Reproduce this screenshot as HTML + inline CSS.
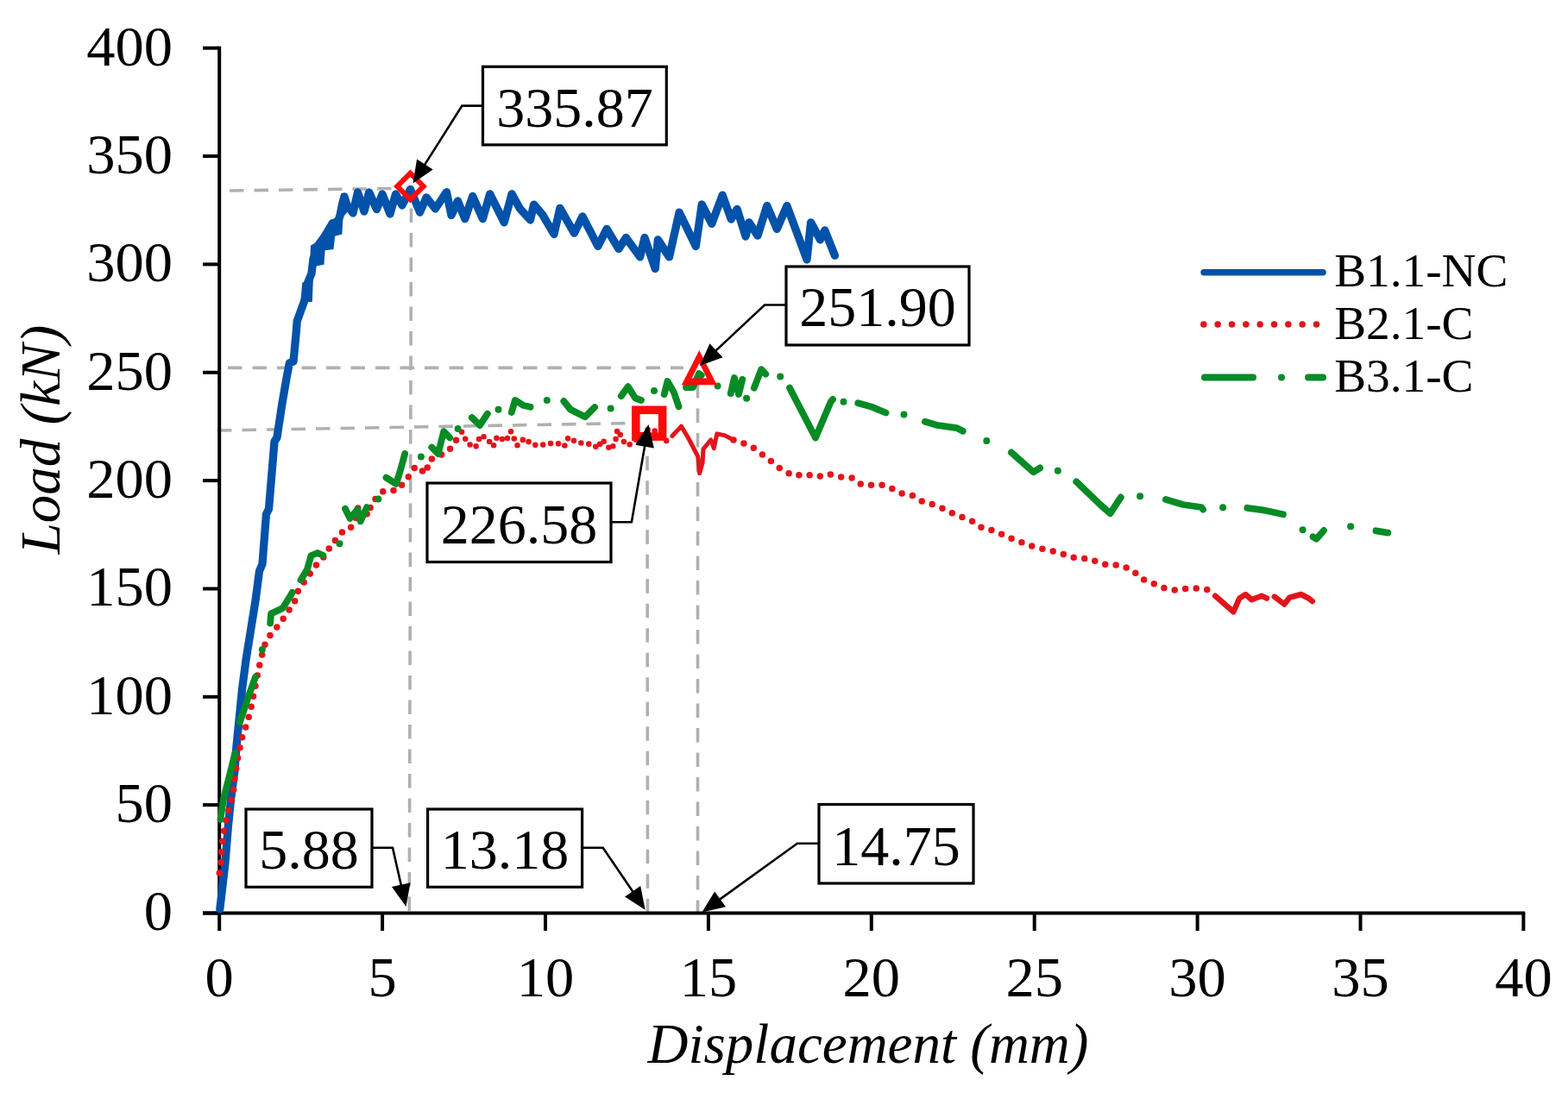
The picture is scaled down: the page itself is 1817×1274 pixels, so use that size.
<!DOCTYPE html>
<html><head><meta charset="utf-8"><title>Load-Displacement</title>
<style>
html,body{margin:0;padding:0;background:#fff;}
svg{display:block;filter:blur(0.4px);}
text{font-family:'Liberation Serif','Times New Roman',serif;fill:#000;}
</style></head><body>
<svg width="1817" height="1274" viewBox="0 0 1817 1274">
<rect x="0" y="0" width="1817" height="1274" fill="#fff"/>

<g stroke="#B0B0B0" stroke-width="3.6" stroke-dasharray="16.5 12" fill="none">
<line x1="266" y1="221" x2="458" y2="218.5"/>
<line x1="264" y1="426.4" x2="792" y2="426.4"/>
<line x1="252" y1="499" x2="732" y2="490.5"/>
<line x1="476.5" y1="241.5" x2="474.3" y2="1058"/>
<line x1="750" y1="500.3" x2="750.5" y2="1058"/>
<line x1="808.5" y1="445.1" x2="808.5" y2="1058"/>
</g>
<g stroke="#000" stroke-width="4" fill="none">
<line x1="254.2" y1="53.8" x2="254.2" y2="1079"/>
<line x1="235" y1="1058.5" x2="1767.2" y2="1058.5"/>
<line x1="235" y1="1058.5" x2="254" y2="1058.5"/>
<line x1="235" y1="933.1" x2="254" y2="933.1"/>
<line x1="235" y1="807.8" x2="254" y2="807.8"/>
<line x1="235" y1="682.5" x2="254" y2="682.5"/>
<line x1="235" y1="557.1" x2="254" y2="557.1"/>
<line x1="235" y1="431.8" x2="254" y2="431.8"/>
<line x1="235" y1="306.4" x2="254" y2="306.4"/>
<line x1="235" y1="181.0" x2="254" y2="181.0"/>
<line x1="235" y1="55.7" x2="254" y2="55.7"/>
<line x1="443.1" y1="1058" x2="443.1" y2="1079"/>
<line x1="632.0" y1="1058" x2="632.0" y2="1079"/>
<line x1="820.9" y1="1058" x2="820.9" y2="1079"/>
<line x1="1009.8" y1="1058" x2="1009.8" y2="1079"/>
<line x1="1198.7" y1="1058" x2="1198.7" y2="1079"/>
<line x1="1387.6" y1="1058" x2="1387.6" y2="1079"/>
<line x1="1576.5" y1="1058" x2="1576.5" y2="1079"/>
<line x1="1765.4" y1="1058" x2="1765.4" y2="1079"/>
</g>
<polyline points="254.8,1054.0 261.0,1000.0 264.3,959.0 267.6,926.0 272.0,893.0 274.0,865.0 277.5,830.0 280.7,798.0 285.0,765.0 289.4,737.7 296.3,694.5 300.5,662.0 304.0,654.0 308.5,596.0 311.5,590.0 318.0,512.0 321.0,507.0 326.6,470.0 332.0,438.4 335.4,420.8 340.0,419.0 343.0,387.8 344.2,372.4 353.0,348.0 355.2,340.0 356.5,328.0 361.0,317.0 363.0,300.0 368.0,288.0 375.0,282.0 380.0,272.0 389.0,263.0 394.0,250.0 397.0,235.0 399.0,228.0 402.4,238.4 409.0,247.0 414.5,223.0 422.0,245.0 427.7,223.0 436.5,242.7 443.0,225.0 452.0,248.0 458.5,225.0 466.0,238.0 475.5,219.3 486.5,246.1 494.1,228.9 504.4,242.0 517.5,222.7 523.0,249.5 530.5,233.0 538.8,253.7 547.7,227.5 559.4,253.7 567.7,224.8 584.2,257.8 593.1,224.8 602.1,241.3 614.5,255.0 618.6,237.1 628.2,248.2 642.0,271.5 648.9,241.3 665.4,270.2 675.0,250.9 692.9,285.3 703.1,265.5 717.0,288.6 725.4,275.5 741.6,297.9 747.0,275.5 759.3,311.7 762.4,277.8 775.5,297.9 787.1,246.2 806.3,285.5 813.3,237.0 824.8,259.3 837.2,226.2 847.2,254.0 854.1,242.4 864.1,274.0 868.0,257.8 878.0,273.2 888.8,238.5 900.3,265.5 911.9,238.5 935.0,301.0 939.6,257.8 950.4,277.8 955.8,267.0 967.4,296.3" fill="none" stroke="#0352AA" stroke-width="9.3" stroke-linecap="round" stroke-linejoin="round"/>
<polygon points="348.3,350 350.3,327.6 355.8,326.5 358.5,320 360,284.7 365,281.4 372.3,271.6 382.1,255 391,252 393,238.6 395.3,224.3 402,224 404,238 402,246.3 397.5,251.8 396.4,271.5 388.2,273.7 386.5,289.1 376.6,290.2 375.5,306.7 363.5,309 361.8,350" fill="#0352AA"/>
<g fill="none" stroke="#E3141B" stroke-width="7.5" stroke-linecap="round" stroke-linejoin="round">
<polyline points="254.3,1012.0 256.3,998.0 257.0,980.8 259.4,965.0 262.5,947.8 266.5,933.7 270.4,918.0 272.0,902.0 274.3,886.0 277.3,869.8 280.7,854.3 285.9,839.6 290.2,824.0 293.7,806.8 299.7,775.7 302.3,764.5 306.6,748.0 312.7,736.9 321.3,726.5 332.0,712.0 344.6,692.0 345.2,685.5 357.0,668.0 369.4,651.0 378.9,642.3 383.2,631.0 390.0,625.0 397.0,616.4 405.6,613.0 412.5,600.9 414.3,588.8 428.0,597.4 429.8,583.6 443.6,569.8 460.9,568.0 476.4,549.0 481.6,540.4 493.7,549.0 497.1,533.5 519.6,523.2 535.1,500.7" stroke-dasharray="0 12.3"/>
<polyline points="535.1,500.7 542.0,514.0 550.9,519.0 557.0,504.4 564.2,508.0 571.5,517.8 576.3,505.6 586.0,511.7 592.0,500.2 599.3,516.5 607.8,508.0 616.3,515.3 624.8,516.5 636.9,514.1 646.5,514.1 653.8,517.8 658.7,506.9 668.3,512.9 678.0,514.1 687.7,515.3 692.6,520.0 697.9,509.4 707.6,521.7 712.9,513.0 715.5,498.0 723.5,513.0 727.9,516.5 736.2,510.5 745.0,503.0 752.0,497.0 760.0,500.0 768.0,509.0 779.8,514.3" stroke-dasharray="0 9" stroke-width="6.6"/>
<polyline points="850.0,510.0 861.4,513.8 872.8,518.9 882.9,526.5 894.3,535.3 907.0,545.4 920.9,551.8 932.3,549.2 947.5,553.0 958.9,549.2 968.3,551.4 979.0,553.9 988.1,553.9 998.8,562.2 1009.5,562.2 1022.7,562.2 1035.1,567.1 1045.0,572.1 1055.5,573.4 1068.9,581.3 1080.4,584.6 1091.6,589.0 1102.0,594.1 1115.6,599.8 1127.1,604.6 1140.0,613.4 1148.2,614.2 1157.3,617.5 1167.2,622.4 1180.4,627.4 1196.1,633.2 1209.3,636.5 1227.5,640.5 1240.1,645.5 1250.1,647.4 1261.4,647.4 1274.0,652.4 1285.3,655.5 1297.2,654.9 1311.7,660.5 1323.6,671.2 1337.4,676.9 1351.2,682.5 1363.8,684.4 1373.8,682.5 1387.0,681.9 1400.2,683.8 1406.0,688.0" stroke-dasharray="0 12.6"/>
<polyline points="778.9,505.5 789.5,494.1 798.3,509.0 808.8,529.3 810.6,548.7 814.1,536.3 815.0,520.5 823.8,509.9 827.3,519.6 830.8,502.9 839.6,504.6 850.0,510.0" stroke-width="5"/>
<polyline points="1408.2,690.8 1429.3,709.3 1436.3,693.5 1443.4,689.0 1450.4,695.2 1461.9,690.8 1468.0,693.5" stroke-width="6.5"/>
<polyline points="1476.8,691.7 1488.3,700.5 1494.4,692.6 1507.6,689.0 1516.4,693.5 1520.8,697.0" stroke-width="6.5"/>
</g>
<g fill="none" stroke="#078B25" stroke-width="7.8" stroke-linecap="round" stroke-linejoin="round">
<polyline points="255.4,950.0 259.0,926.0 267.5,893.0 272.3,872.9"/>
<polyline points="277.9,837.2 287.0,810.0 296.0,784.8"/>
<polyline points="313.2,722.5 314.1,711.4 327.5,705.1 336.9,690.2 338.7,686.7"/>
<polyline points="348.5,672.4 356.0,660.0 360.5,644.0 368.0,641.0 374.3,643.8"/>
<polyline points="400.0,589.7 405.6,600.9 414.3,590.5 417.7,604.3 425.1,588.0"/>
<polyline points="447.5,553.6 459.0,561.0 464.0,545.0 469.2,525.9"/>
<polyline points="500.3,518.6 507.7,526.0 514.2,500.1 521.2,507.4"/>
<polyline points="546.9,484.1 556.0,493.0 564.9,479.7"/>
<polyline points="592.8,478.0 596.9,463.9 606.6,470.0 614.6,471.8"/>
<polyline points="653.3,465.0 661.1,474.8 678.0,483.3 689.2,472.1"/>
<polyline points="719.8,459.1 727.7,448.2 736.2,461.5 743.0,464.0"/>
<polyline points="769.7,457.1 773.5,442.0 781.0,455.0 786.5,471.2"/>
<polyline points="795.0,449.0 803.0,449.0 810.0,433.0 812.7,435.1"/>
<polyline points="846.7,456.1 851.0,438.0 856.0,457.0 860.3,439.9"/>
<polyline points="873.9,449.6 882.2,428.2 887.3,433.7"/>
<polyline points="915.0,449.6 945.0,507.5 962.7,465.7 965.0,463.0"/>
<polyline points="994.3,467.2 1009.5,471.4 1026.5,478.5"/>
<polyline points="1071.9,488.8 1085.5,492.8 1108.6,496.1 1115.8,499.7"/>
<polyline points="1171.9,524.5 1197.7,547.3 1205.1,542.4"/>
<polyline points="1247.3,558.4 1275.2,585.2 1286.6,595.2 1298.8,576.4"/>
<polyline points="1350.9,578.9 1371.0,585.0 1392.0,588.0 1394.1,590.7"/>
<polyline points="1445.3,588.8 1466.0,591.7 1486.9,596.3"/>
<polyline points="1521.5,622.3 1525.5,624.7 1534.0,615.0"/>
<polyline points="1594.5,615.3 1608.3,617.6"/>
</g>
<g fill="#078B25"><circle cx="303.9" cy="753" r="4"/><circle cx="393.5" cy="630.2" r="4"/><circle cx="438.4" cy="578.4" r="4"/><circle cx="487.9" cy="529.4" r="4"/><circle cx="530.6" cy="497.1" r="4"/><circle cx="577.5" cy="474.8" r="4"/><circle cx="633.8" cy="463.9" r="4"/><circle cx="707.7" cy="473.6" r="4"/><circle cx="758" cy="453" r="4"/><circle cx="831.6" cy="447.5" r="4"/><circle cx="865.1" cy="461.8" r="4"/><circle cx="904.2" cy="436.5" r="4"/><circle cx="977.5" cy="465.7" r="4"/><circle cx="1047.5" cy="480.4" r="4"/><circle cx="1143.3" cy="511" r="4"/><circle cx="1225.8" cy="545.7" r="4"/><circle cx="1321.1" cy="575.2" r="4"/><circle cx="1417.1" cy="588.3" r="4"/><circle cx="1509.6" cy="614.2" r="4"/><circle cx="1565.1" cy="610.2" r="4"/></g>
<g style="font-size:66.5px">
<text x="200" y="1078.3" text-anchor="end">0</text>
<text x="200" y="952.9" text-anchor="end">50</text>
<text x="200" y="827.6" text-anchor="end">100</text>
<text x="200" y="702.2" text-anchor="end">150</text>
<text x="200" y="576.9" text-anchor="end">200</text>
<text x="200" y="451.6" text-anchor="end">250</text>
<text x="200" y="326.2" text-anchor="end">300</text>
<text x="200" y="200.8" text-anchor="end">350</text>
<text x="200" y="75.5" text-anchor="end">400</text>
<text x="254.2" y="1155" text-anchor="middle">0</text>
<text x="443.1" y="1155" text-anchor="middle">5</text>
<text x="632.0" y="1155" text-anchor="middle">10</text>
<text x="820.9" y="1155" text-anchor="middle">15</text>
<text x="1009.8" y="1155" text-anchor="middle">20</text>
<text x="1198.7" y="1155" text-anchor="middle">25</text>
<text x="1387.6" y="1155" text-anchor="middle">30</text>
<text x="1576.5" y="1155" text-anchor="middle">35</text>
<text x="1765.4" y="1155" text-anchor="middle">40</text>
</g>
<text x="1006" y="1232" text-anchor="middle" style="font-size:65px;font-style:italic">Displacement (mm)</text>
<text transform="translate(69,509.6) rotate(-90)" text-anchor="middle" style="font-size:65px;font-style:italic">Load (kN)</text>
<line x1="1395" y1="315.8" x2="1533" y2="315.8" stroke="#0352AA" stroke-width="7.5" stroke-linecap="round"/>
<line x1="1394.8" y1="376" x2="1530" y2="376" stroke="#E0141A" stroke-width="7.5" stroke-linecap="round" stroke-dasharray="0 16.34"/>
<line x1="1396" y1="437.6" x2="1533" y2="437.6" stroke="#068C26" stroke-width="8" stroke-linecap="round" stroke-dasharray="56 33 0 31"/>
<g style="font-size:55.3px">
<text x="1546.2" y="332.3">B1.1-NC</text>
<text x="1546.2" y="393.1">B2.1-C</text>
<text x="1546.2" y="453.9">B3.1-C</text>
</g>
<g fill="none" stroke="#FF0A0A">
<path d="M475.5,200.8 L490.7,216 L475.5,231.2 L460.3,216 Z" stroke-width="6"/>
<rect x="736.8" y="475.3" width="30.8" height="30.8" stroke-width="9.6"/>
<path d="M810.3,406 L830.8,446.2 L789.8,446.2 Z M810.4,421 L801.6,438.6 L819.2,438.6 Z" fill="#FF0A0A" fill-rule="evenodd" stroke="none"/>
</g>
<polyline points="559.5,122.6 535.4,122.6 490.3,193.9" fill="none" stroke="#000" stroke-width="2.6"/><path d="M478.5,212.5 L483.1,184.6 L501.7,196.4 Z" fill="#000"/>
<rect x="559.5" y="77.3" width="212.79999999999995" height="90.60000000000001" fill="#fff" stroke="#000" stroke-width="3.2"/><text x="665.9" y="146.5" text-anchor="middle" style="font-size:66px">335.87</text>
<polyline points="911.0,353.5 886.0,353.5 827.0,408.9" fill="none" stroke="#000" stroke-width="2.6"/><path d="M811.0,424.0 L822.4,398.2 L837.5,414.2 Z" fill="#000"/>
<rect x="911" y="309" width="212" height="91" fill="#fff" stroke="#000" stroke-width="3.2"/><text x="1017" y="378.3" text-anchor="middle" style="font-size:66px">251.90</text>
<polyline points="708.0,605.3 731.9,605.3 747.7,513.7" fill="none" stroke="#000" stroke-width="2.6"/><path d="M751.5,492.0 L757.9,519.5 L736.2,515.7 Z" fill="#000"/>
<rect x="495" y="560" width="213" height="91.5" fill="#fff" stroke="#000" stroke-width="3.2"/><text x="601.5" y="630" text-anchor="middle" style="font-size:66px">226.58</text>
<polyline points="431.0,982.7 455.0,982.7 465.6,1029.5" fill="none" stroke="#000" stroke-width="2.6"/><path d="M470.5,1051.0 L454.0,1028.1 L475.5,1023.2 Z" fill="#000"/>
<rect x="285" y="938" width="146" height="90.29999999999995" fill="#fff" stroke="#000" stroke-width="3.2"/><text x="358" y="1007" text-anchor="middle" style="font-size:66px">5.88</text>
<polyline points="674.6,982.7 698.7,982.7 735.3,1036.5" fill="none" stroke="#000" stroke-width="2.6"/><path d="M747.7,1054.7 L724.0,1039.4 L742.2,1027.0 Z" fill="#000"/>
<rect x="495.6" y="938" width="179.0" height="90.29999999999995" fill="#fff" stroke="#000" stroke-width="3.2"/><text x="585.1" y="1007" text-anchor="middle" style="font-size:66px">13.18</text>
<polyline points="949.0,977.8 923.9,977.8 831.3,1044.6" fill="none" stroke="#000" stroke-width="2.6"/><path d="M813.5,1057.5 L828.1,1033.4 L841.0,1051.2 Z" fill="#000"/>
<rect x="949" y="932.5" width="179" height="91.5" fill="#fff" stroke="#000" stroke-width="3.2"/><text x="1038.5" y="1002.5" text-anchor="middle" style="font-size:66px">14.75</text>
</svg>
</body></html>
